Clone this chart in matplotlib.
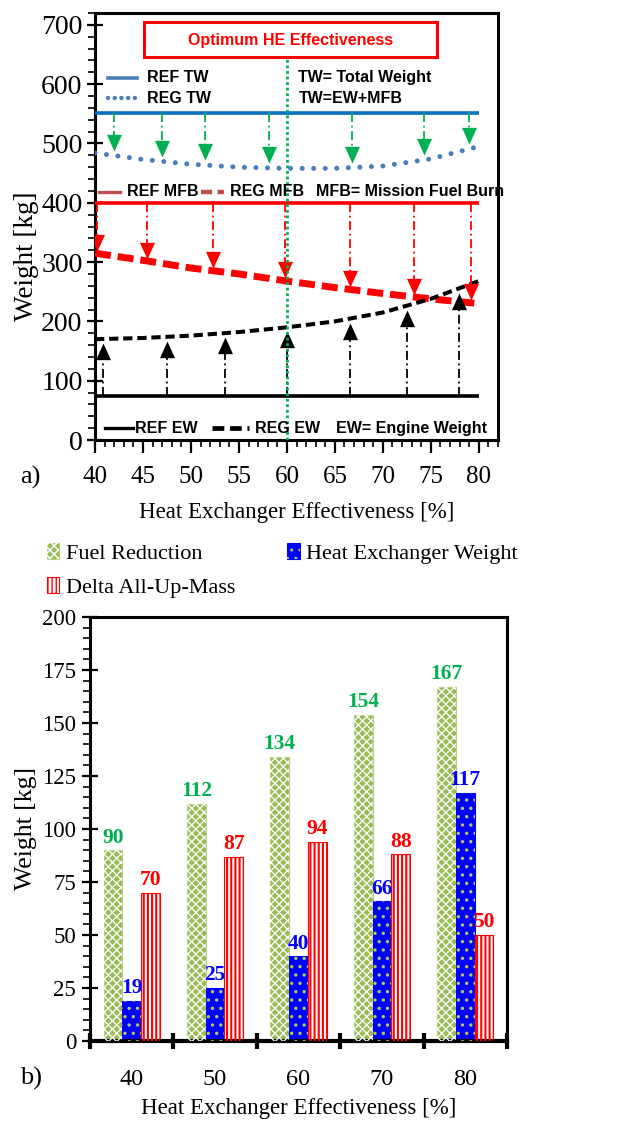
import numpy as np
import matplotlib
matplotlib.use("Agg")
import matplotlib.pyplot as plt
from matplotlib.patches import Rectangle
from matplotlib.ticker import MultipleLocator

# ---------------- data: panel a) ----------------
eff = [40, 45, 50, 55, 60, 65, 70, 75, 80]
ref_tw = 552
ref_mfb = 400
ref_ew = 75
reg_tw = [484, 473, 465, 460, 458, 458, 462, 474, 495]
reg_mfb = [315, 303, 290, 280, 268, 257, 247, 238, 230]
reg_ew = [170, 172, 176, 182, 190, 200, 215, 238, 268]
tw_arrow_x = [42.0, 47.0, 51.5, 58.1, 66.8, 74.3, 79.0]
mfb_arrow_x = [40.2, 45.4, 52.3, 59.8, 66.6, 73.2, 79.2]
ew_arrow_x = [40.8, 47.5, 53.5, 60.0, 66.6, 72.5, 77.9]
optimum_eff = 60

# ---------------- data: panel b) ----------------
categories = ["40", "50", "60", "70", "80"]
fuel_reduction = [90, 112, 134, 154, 167]
hx_weight = [19, 25, 40, 66, 117]
delta_aum = [70, 87, 94, 88, 50]

SERIF = ["Liberation Serif", "DejaVu Serif"]
NOTE_FONT, NOTE_SIZE = ["Liberation Sans", "DejaVu Sans"], 11.5

fig = plt.figure(figsize=(6.24, 11.21), dpi=100)

# =============== panel a) ===============
ax = fig.add_axes([95 / 624, 1 - 440 / 1121, 403 / 624, 427 / 1121])
ax.set_xlim(40, 82)
ax.set_ylim(0, 720)

blue = "#0070c0"
lblue = "#4a7ebb"
green = "#00b050"
red = "#ff0000"
mred = "#c0504d"

ax.plot([40, 80], [ref_tw, ref_tw], color=blue, lw=2.6, solid_capstyle="butt", zorder=3)
ax.plot(eff, reg_tw, color=lblue, lw=3.6, linestyle=(0, (0.01, 2.3)),
        dash_capstyle="round", zorder=3)
ax.plot([40, 80], [ref_mfb, ref_mfb], color=red, lw=2.6, solid_capstyle="butt", zorder=3)
ax.plot(eff, reg_mfb, color=red, lw=5.0, linestyle=(0, (2.3, 1.0)), zorder=3)
ax.plot([40, 80], [ref_ew, ref_ew], color="black", lw=2.6, solid_capstyle="butt", zorder=3)
ax.plot(eff, reg_ew, color="black", lw=2.9, linestyle=(0, (2.3, 1.2)), zorder=3)

head_down = [(-0.45, 1.0), (0.45, 1.0), (0.0, 0.0)]
head_up = [(-0.45, -1.0), (0.45, -1.0), (0.0, 0.0)]
HEAD_MS = 24


def draw_arrows(xs, start, curve, offset, color, down):
    tips = np.interp(xs, eff, curve) + offset
    for x, t in zip(xs, tips):
        ax.plot([x, x], [start, t + (12 if down else -12)], color=color, lw=1.3,
                linestyle=(0, (5, 2, 1, 2)), zorder=4)
        ax.plot([x], [t], marker=head_down if down else head_up, ms=HEAD_MS,
                color=color, markeredgewidth=0, zorder=5)


draw_arrows(tw_arrow_x, ref_tw, reg_tw, 8, green, True)
draw_arrows(mfb_arrow_x, ref_mfb, reg_mfb, 4, red, True)
draw_arrows(ew_arrow_x, ref_ew, reg_ew, -7, "black", False)

ax.plot([optimum_eff, optimum_eff], [0, 653], color=green, lw=2.0,
        linestyle=(0, (1, 1)), zorder=6)

ax.add_patch(Rectangle((45.1, 646), 30.5, 58, facecolor="white",
                       edgecolor=red, lw=2.2, zorder=6))
ax.text(60.35, 674, "Optimum HE Effectiveness", color=red, family=NOTE_FONT,
        fontweight="bold", fontsize=NOTE_SIZE, ha="center", va="center", zorder=7)

lab = dict(family=NOTE_FONT, fontweight="bold", fontsize=NOTE_SIZE, va="center", zorder=7)
ax.plot([41.4, 44.4], [611, 611], color=lblue, lw=2.6)
ax.text(45.4, 611, "REF TW", **lab)
ax.plot([41.4, 44.4], [576, 576], color=lblue, lw=3.2, linestyle=(0, (0.01, 1.5)),
        dash_capstyle="round")
ax.text(45.4, 576, "REG TW", **lab)
ax.text(61.2, 611, "TW= Total Weight", **lab)
ax.text(61.2, 576, "TW=EW+MFB", **lab)

ax.plot([40.4, 42.6], [419, 419], color=mred, lw=2.4)
ax.text(43.3, 419, "REF MFB", **lab)
ax.plot([51.0, 53.4], [419, 419], color=mred, lw=3.2, linestyle=(0, (2.5, 1.2)))
ax.text(54.1, 419, "REG MFB", **lab)
ax.text(63.0, 419, "MFB= Mission Fuel Burn", **lab)

ax.plot([41.0, 44.0], [20, 20], color="black", lw=2.4)
ax.text(44.2, 20, "REF EW", **lab)
ax.plot([52.2, 56.1], [20, 20], color="black", lw=3.4, linestyle=(0, (2.5, 1.2)))
ax.text(56.7, 20, "REG EW", **lab)
ax.text(65.1, 20, "EW= Engine Weight", **lab)

ax.xaxis.set_major_locator(MultipleLocator(5))
ax.xaxis.set_minor_locator(MultipleLocator(1))
ax.yaxis.set_minor_locator(MultipleLocator(20))
ax.set_yticks(np.arange(0, 701, 100))
ax.tick_params(axis="x", which="major", direction="out", length=9, width=1.6,
               labelsize=18, pad=10)
ax.tick_params(axis="x", which="minor", direction="out", length=5, width=1.2)
ax.tick_params(axis="y", which="major", direction="inout", length=12, width=1.6,
               labelsize=20, pad=3)
ax.tick_params(axis="y", which="minor", direction="out", length=5, width=1.2)
for lbl in ax.get_xticklabels() + ax.get_yticklabels():
    lbl.set_family(SERIF)
for s in ax.spines.values():
    s.set_linewidth(2.2)
ax.set_xlabel("Heat Exchanger Effectiveness [%]", family=SERIF, fontsize=16.5, labelpad=10)
ax.set_ylabel("Weight [kg]", family=SERIF, fontsize=19.5)
ax.yaxis.set_label_coords(39 / 624, 1 - 256 / 1121, transform=fig.transFigure)
fig.text(20 / 624, 1 - 477 / 1121, "a)", family=SERIF, fontsize=19, va="center")

# =============== panel b) ===============
bx = fig.add_axes([90 / 624, 1 - 1041 / 1121, 417 / 624, 424 / 1121])
bx.set_xlim(-0.5, 4.5)
bx.set_ylim(0, 200)
xi = np.arange(len(categories))
w = 0.225


def hatched_bars(x, h, face, edge, hatch, hatch_color, hlw, label):
    bars = bx.bar(x, h, w, color=face, edgecolor=edge, lw=0.8, label=label, zorder=2)
    with plt.rc_context({"hatch.linewidth": hlw}):
        over = bx.bar(x, h, w, facecolor="none", edgecolor=hatch_color, lw=0,
                      hatch=hatch, zorder=3)
    for p in over:
        if hasattr(p, "set_hatch_linewidth"):
            p.set_hatch_linewidth(hlw)
    return bars, over


b1 = hatched_bars(xi - w, fuel_reduction, "#9bbb59", "#b5d08a", "xxxx", "white", 0.9,
                  "Fuel Reduction")
b2 = hatched_bars(xi, hx_weight, "#0000ff", "#0000ff", "..", "#b6c95a", 1.2,
                  "Heat Exchanger Weight")
b3 = hatched_bars(xi + w, delta_aum, "white", red, "||||", red, 1.5,
                  "Delta All-Up-Mass")

val = dict(family=SERIF, fontweight="bold", fontsize=15.5, ha="center", va="bottom")
for x, v in zip(xi - w, fuel_reduction):
    bx.text(x, v + 1.2, f"{v}", color=green, **val)
for x, v in zip(xi, hx_weight):
    bx.text(x, v + 1.2, f"{v}", color="#0000ff", **val)
for x, v in zip(xi + w, delta_aum):
    bx.text(x, v + 1.2, f"{v}", color=red, **val)

bx.set_xticks(np.arange(-0.5, 4.6, 1.0))
bx.set_xticklabels([])
bx.set_xticks(xi, minor=True)
bx.set_xticklabels(categories, minor=True)
bx.tick_params(axis="x", which="major", direction="inout", length=12, width=3.0)
bx.tick_params(axis="x", which="minor", length=0, labelsize=17.5, pad=20)
bx.yaxis.set_major_locator(MultipleLocator(25))
bx.yaxis.set_minor_locator(MultipleLocator(5))
bx.tick_params(axis="y", which="major", direction="inout", length=12, width=1.6,
               labelsize=16.5, pad=4)
bx.tick_params(axis="y", which="minor", direction="out", length=5, width=1.2)
for lbl in bx.get_xticklabels(minor=True) + bx.get_yticklabels():
    lbl.set_family(SERIF)
for s in bx.spines.values():
    s.set_linewidth(2.2)
bx.spines["bottom"].set_linewidth(3.0)
bx.set_xlabel("Heat Exchanger Effectiveness [%]", family=SERIF, fontsize=16.5, labelpad=6)
bx.set_ylabel("Weight [kg]", family=SERIF, fontsize=18.5)
bx.yaxis.set_label_coords(37 / 624, 1 - 828 / 1121, transform=fig.transFigure)
fig.text(20 / 624, 1 - 1078 / 1121, "b)", family=SERIF, fontsize=19, va="center")

leg = fig.legend(handles=[b1, b3, b2],
                 labels=["Fuel Reduction", "Delta All-Up-Mass", "Heat Exchanger Weight"],
                 ncol=2, frameon=False, loc="upper left",
                 bbox_to_anchor=(47 / 624, 1 - 543 / 1121),
                 prop={"family": SERIF, "size": 16}, handlelength=0.55,
                 handleheight=0.7, handletextpad=0.3, columnspacing=2.35,
                 labelspacing=0.62, borderaxespad=0, borderpad=0)

fig.savefig("out.png", dpi=100)
